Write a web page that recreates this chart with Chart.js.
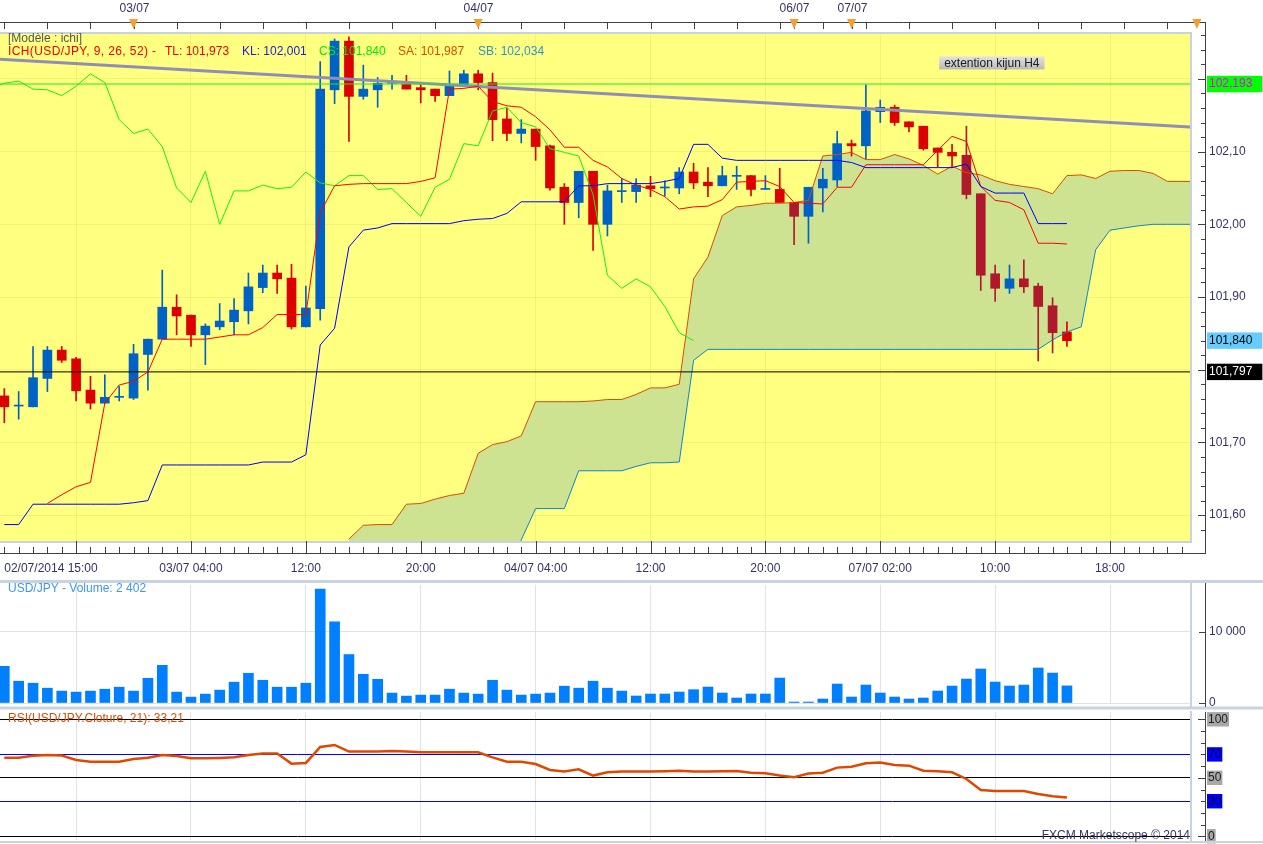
<!DOCTYPE html>
<html>
<head>
<meta charset="utf-8">
<title>USD/JPY ichimoku H1</title>
<script src="https://cdn.jsdelivr.net/npm/chart.js@4.4.0/dist/chart.umd.min.js"></script>
<style>
  html, body { margin: 0; padding: 0; background: #fff; overflow: hidden; }
  #wrap { position: relative; width: 1263px; height: 844px; }
  canvas { position: absolute; left: 0; }
</style>
</head>
<body>
<div id="wrap">
  <canvas id="price" width="1263" height="580" style="top:0"></canvas>
  <canvas id="vol" width="1263" height="130" style="top:580px"></canvas>
  <canvas id="rsi" width="1263" height="134" style="top:710px"></canvas>
</div>
<script>
// one candle per hour, index 0 = 02/07/2014 15:00 (weekend skipped after index 54)
var open = [101.764, 101.750, 101.749, 101.788, 101.827, 101.815, 101.772, 101.754, 101.762, 101.761,
  101.821, 101.842, 101.886, 101.875, 101.848, 101.859, 101.866, 101.881, 101.913, 101.933,
  101.926, 101.859, 101.884, 102.185, 102.252, 102.176, 102.185, 102.194, 102.193, 102.188,
  102.186, 102.177, 102.192, 102.207, 102.195, 102.145, 102.125, 102.131, 102.108, 102.051,
  102.030, 102.073, 102.000, 102.045, 102.045, 102.053, 102.050, 102.050, 102.072, 102.058,
  102.053, 102.066, 102.067, 102.048, 102.048, 102.030, 102.011, 102.050, 102.061, 102.111,
  102.108, 102.155, 102.161, 102.141, 102.135, 102.105, 102.099, 102.095, 102.042, 101.932,
  101.912, 101.925, 101.915, 101.888, 101.852];
var high = [101.774, 101.770, 101.832, 101.832, 101.832, 101.817, 101.791, 101.793, 101.777, 101.835,
  101.842, 101.937, 101.903, 101.875, 101.863, 101.891, 101.898, 101.933, 101.944, 101.944,
  101.945, 101.915, 102.224, 102.255, 102.258, 102.219, 102.202, 102.205, 102.205, 102.194,
  102.186, 102.211, 102.212, 102.212, 102.208, 102.160, 102.144, 102.131, 102.109, 102.056,
  102.073, 102.073, 102.054, 102.063, 102.063, 102.066, 102.060, 102.078, 102.084, 102.078,
  102.080, 102.080, 102.067, 102.067, 102.077, 102.030, 102.051, 102.077, 102.128, 102.116,
  102.192, 102.171, 102.164, 102.141, 102.135, 102.105, 102.110, 102.135, 102.042, 101.944,
  101.944, 101.951, 101.919, 101.899, 101.866];
var low = [101.727, 101.732, 101.749, 101.770, 101.810, 101.757, 101.746, 101.754, 101.757, 101.759,
  101.772, 101.842, 101.848, 101.832, 101.807, 101.855, 101.848, 101.863, 101.906, 101.905,
  101.856, 101.859, 101.868, 102.166, 102.114, 102.172, 102.161, 102.186, 102.186, 102.167,
  102.169, 102.177, 102.192, 102.185, 102.115, 102.115, 102.112, 102.088, 102.047, 102.000,
  102.009, 101.964, 101.984, 102.030, 102.030, 102.038, 102.039, 102.042, 102.049, 102.038,
  102.053, 102.048, 102.039, 102.048, 102.030, 101.972, 101.974, 102.017, 102.052, 102.094,
  102.090, 102.140, 102.136, 102.127, 102.102, 102.079, 102.078, 102.035, 101.909, 101.894,
  101.905, 101.906, 101.812, 101.823, 101.832];
var close = [101.749, 101.751, 101.789, 101.827, 101.813, 101.771, 101.754, 101.762, 101.763, 101.822,
  101.842, 101.886, 101.874, 101.848, 101.860, 101.867, 101.882, 101.914, 101.933, 101.925,
  101.859, 101.885, 102.186, 102.252, 102.176, 102.186, 102.194, 102.197, 102.186, 102.185,
  102.177, 102.190, 102.207, 102.195, 102.144, 102.125, 102.131, 102.107, 102.050, 102.030,
  102.073, 102.000, 102.046, 102.046, 102.054, 102.049, 102.051, 102.072, 102.057, 102.053,
  102.067, 102.067, 102.048, 102.049, 102.030, 102.011, 102.051, 102.062, 102.111, 102.108,
  102.156, 102.161, 102.140, 102.134, 102.104, 102.099, 102.094, 102.041, 101.930, 101.912,
  101.925, 101.914, 101.887, 101.851, 101.840];

var volume = [5140, 3060, 2780, 2080, 1670, 1530, 1670, 1940, 2220, 1670,
  3470, 5280, 1530, 830, 1250, 1810, 2920, 4170, 3190, 2220,
  2220, 2780, 15970, 11390, 6800, 4030, 3330, 1390, 970, 1110,
  1110, 1940, 1390, 1250, 3190, 1810, 1110, 1250, 1390, 2360,
  2080, 3060, 2080, 1670, 980, 1260, 1260, 1540, 1870, 2240,
  1400, 700, 1260, 1260, 3500, 140, 140, 560, 2660, 840,
  2520, 1400, 840, 560, 700, 1680, 2380, 3360, 4770, 2940,
  2380, 2520, 4910, 4200, 2402];

var rsi = [67.2, 67.2, 68.9, 69.5, 69.0, 65.2, 63.8, 63.8, 63.8, 66.1,
  67.2, 69.5, 68.7, 66.7, 66.7, 67.0, 67.5, 69.5, 70.7, 70.7,
  62.1, 62.7, 76.4, 78.1, 72.4, 72.4, 72.4, 72.9, 72.4, 71.8,
  71.8, 71.8, 71.8, 71.8, 67.5, 63.8, 63.8, 61.8, 56.7, 55.3,
  57.3, 51.9, 54.7, 55.3, 55.3, 55.3, 55.6, 56.1, 55.3, 55.3,
  55.6, 55.8, 54.4, 53.8, 51.9, 50.4, 53.6, 54.4, 58.7, 59.5,
  62.4, 63.0, 61.0, 60.4, 56.1, 55.6, 54.7, 49.0, 39.6, 38.7,
  38.7, 38.7, 36.2, 34.2, 33.2];

// ichimoku lines, each with the candle index of its first value
var tenkanStart = 3;
var tenkan = [101.616, 101.628, 101.639, 101.645, 101.754, 101.779, 101.784, 101.797, 101.842, 101.842,
  101.842, 101.842, 101.845, 101.848, 101.848, 101.858, 101.876, 101.876, 101.876, 102.016,
  102.053, 102.055, 102.056, 102.056, 102.056, 102.056, 102.059, 102.064, 102.186, 102.187,
  102.190, 102.169, 102.163, 102.161, 102.148, 102.130, 102.106, 102.106, 102.088, 102.079,
  102.063, 102.054, 102.048, 102.038, 102.021, 102.024, 102.025, 102.034, 102.058, 102.059,
  102.060, 102.052, 102.030, 102.029, 102.028, 102.051, 102.051, 102.082, 102.082, 102.082,
  102.082, 102.082, 102.102, 102.121, 102.114, 102.052, 102.033, 102.030, 102.020, 101.974,
  101.974, 101.973];
var kijunStart = 0;
var kijun = [101.587, 101.587, 101.615, 101.615, 101.615, 101.615, 101.615, 101.615, 101.615, 101.617,
  101.620, 101.669, 101.669, 101.669, 101.669, 101.669, 101.669, 101.669, 101.673, 101.673,
  101.673, 101.683, 101.834, 101.857, 101.969, 101.992, 101.995, 102.001, 102.001, 102.001,
  102.001, 102.001, 102.005, 102.007, 102.008, 102.015, 102.031, 102.031, 102.031, 102.031,
  102.053, 102.053, 102.056, 102.056, 102.056, 102.056, 102.059, 102.063, 102.110, 102.110,
  102.091, 102.088, 102.088, 102.088, 102.088, 102.088, 102.088, 102.088, 102.088, 102.085,
  102.078, 102.078, 102.078, 102.078, 102.078, 102.078, 102.078, 102.083, 102.052, 102.043,
  102.043, 102.043, 102.001, 102.001, 102.001];
var chikouStart = -1;
var chikou = [102.186, 102.194, 102.197, 102.186, 102.185, 102.177, 102.190, 102.207, 102.195, 102.144,
  102.125, 102.131, 102.107, 102.050, 102.030, 102.073, 102.000, 102.046, 102.046, 102.054,
  102.049, 102.051, 102.072, 102.057, 102.053, 102.067, 102.067, 102.048, 102.049, 102.030,
  102.011, 102.051, 102.062, 102.111, 102.108, 102.156, 102.161, 102.140, 102.134, 102.104,
  102.099, 102.094, 102.041, 101.930, 101.912, 101.925, 101.914, 101.887, 101.851, 101.840];
var senkouStart = 24;
var senkouA = [101.567, 101.586, 101.587, 101.587, 101.615, 101.616, 101.622, 101.627, 101.630, 101.685,
  101.697, 101.701, 101.709, 101.756, 101.756, 101.756, 101.756, 101.757, 101.759, 101.759,
  101.766, 101.775, 101.775, 101.780, 101.925, 101.955, 102.012, 102.024, 102.026, 102.029,
  102.029, 102.030, 102.033, 102.094, 102.096, 102.099, 102.089, 102.089, 102.096, 102.090,
  102.081, 102.069, 102.080, 102.071, 102.068, 102.060, 102.055, 102.052, 102.049, 102.042,
  102.067, 102.068, 102.063, 102.073, 102.074, 102.074, 102.070, 102.059, 102.059, 102.059];
var senkouB = [101.500, 101.500, 101.500, 101.500, 101.500, 101.500, 101.500, 101.500, 101.500, 101.500,
  101.500, 101.500, 101.566, 101.609, 101.609, 101.609, 101.661, 101.661, 101.661, 101.661,
  101.667, 101.672, 101.672, 101.673, 101.813, 101.828, 101.828, 101.828, 101.828, 101.828,
  101.828, 101.828, 101.828, 101.828, 101.828, 101.828, 101.828, 101.828, 101.828, 101.828,
  101.828, 101.828, 101.828, 101.828, 101.828, 101.828, 101.828, 101.828, 101.828, 101.841,
  101.852, 101.859, 101.965, 101.992, 101.995, 101.998, 102.000, 102.000, 102.000, 102.000];

// drawn objects on the price panel
var trendLine = [102.227, 102.134];      // value at left edge, value at right edge
var levels = [102.193, 101.797];         // horizontal lines
var priceMarks = [102.193, 101.840, 101.797];
var priceTicks = [101.6, 101.7, 101.8, 101.9, 102.0, 102.1, 102.2];
var hiddenPriceLabels = [101.8, 102.2];  // covered by the marker boxes
var volTicks = [0, 10000];
var volTickText = ['0', '10 000'];
var rsiTicks = [0, 30, 50, 70, 100];

// time axis
var gridHours = [5, 13, 21, 29, 37, 45, 53, 61, 69, 77];
var timeTickPos = [3.25, 13, 21, 29, 37, 45, 53, 61, 69, 77];
var timeTickText = ['02/07/2014 15:00', '03/07 04:00', '12:00', '20:00', '04/07 04:00', '12:00', '20:00', '07/07 02:00', '10:00', '18:00'];
var dayPos = [9, 33, 55, 59];
var dayText = ['03/07', '04/07', '06/07', '07/07'];

var darkCandles = [55, 67, 68, 69, 71, 72, 73];

var X_MIN = -0.3, X_MAX = 82.57;
var AXIS_X = 1205;
var FONT = '12px "Liberation Sans", Arial, sans-serif';
var NAVY = '#333366';
var FRAME = '#C9D3DF';

Chart.defaults.font.family = '"Liberation Sans", Arial, sans-serif';
Chart.defaults.font.size = 12;
Chart.defaults.animation = false;

function pts(arr, start) {
  return arr.map(function (v, k) { return { x: start + k, y: v }; });
}
function fmt(v, d) { return v.toFixed(d).replace('.', ','); }

// the panels are laid out by pixel, so drop the label overflow padding
function noPad(s) { s.paddingLeft = 0; s.paddingRight = 0; s.paddingTop = 0; s.paddingBottom = 0; }

function candleColor(c) {
  var i = c.dataIndex;
  if (close[i] >= open[i]) return '#0062C4';
  return darkCandles.indexOf(i) >= 0 ? '#B0192B' : '#DC0000';
}

function xAxis(showLabels, gridColor, height) {
  return {
    type: 'linear', min: X_MIN, max: X_MAX, offset: false,
    afterBuildTicks: function (s) {
      var vals = showLabels ? [3.25].concat(gridHours) : gridHours;
      s.ticks = vals.map(function (v) { return { value: v }; });
    },
    afterFit: function (s) { s.height = height; noPad(s); },
    ticks: {
      display: showLabels, autoSkip: false, maxRotation: 0, padding: 20, color: NAVY,
      callback: function (v) {
        var k = timeTickPos.indexOf(v);
        return k >= 0 ? timeTickText[k] : '';
      }
    },
    grid: {
      offset: false, drawTicks: false,
      color: function (c) { return gridHours.indexOf(c.tick.value) >= 0 ? gridColor : 'rgba(0,0,0,0)'; }
    },
    border: { display: false }
  };
}

function line(data, color, width, order) {
  return { type: 'line', data: data, borderColor: color, borderWidth: width, pointRadius: 0,
           tension: 0, fill: false, order: order };
}

function hline(ctx, x1, x2, y) { ctx.beginPath(); ctx.moveTo(x1, y); ctx.lineTo(x2, y); ctx.stroke(); }
function vline(ctx, x, y1, y2) { ctx.beginPath(); ctx.moveTo(x, y1); ctx.lineTo(x, y2); ctx.stroke(); }

var priceDeco = {
  id: 'priceDeco',
  beforeDraw: function (chart) {
    var a = chart.chartArea, ctx = chart.ctx;
    ctx.save();
    ctx.fillStyle = '#FFFF80';
    ctx.fillRect(a.left, a.top, a.right - a.left, a.bottom - a.top);
    ctx.restore();
  },
  afterDraw: function (chart) {
    var ctx = chart.ctx, a = chart.chartArea, x = chart.scales.x, y = chart.scales.y;
    ctx.save();
    ctx.strokeStyle = FRAME; ctx.lineWidth = 2;
    hline(ctx, 0, a.right + 2, a.bottom + 1);
    vline(ctx, a.right + 1, a.top, a.bottom + 2);
    hline(ctx, 0, a.right + 2, a.top - 1);

    ctx.strokeStyle = '#404040'; ctx.lineWidth = 1;
    // top date strip
    hline(ctx, 0, AXIS_X, 22.5);
    for (var i = 0; i <= 83; i += 3) {
      var px = Math.round(x.getPixelForValue(i)) + 0.5;
      vline(ctx, px, 22, 29);
    }
    ctx.font = FONT; ctx.fillStyle = NAVY; ctx.textAlign = 'center'; ctx.textBaseline = 'middle';
    dayPos.forEach(function (p, k) {
      var px = Math.round(x.getPixelForValue(p)) + 0.5;
      vline(ctx, px, 22, 29);
      ctx.fillText(dayText[k], px, 9);
    });
    ctx.fillStyle = '#F2A031';
    dayPos.concat([83.05]).forEach(function (p) {
      var px = x.getPixelForValue(p);
      ctx.beginPath(); ctx.moveTo(px - 4.5, 19); ctx.lineTo(px + 4.5, 19); ctx.lineTo(px, 29); ctx.closePath(); ctx.fill();
    });

    // bottom time axis
    hline(ctx, 0, AXIS_X, 553.5);
    for (var j = 0; j <= 82; j++) {
      vline(ctx, Math.round(x.getPixelForValue(j)) + 0.5, 547, 553);
    }
    gridHours.forEach(function (h) { vline(ctx, Math.round(x.getPixelForValue(h)) + 0.5, 541, 553); });

    // price axis line and ticks
    vline(ctx, AXIS_X + 0.5, 22, 554);
    for (var v = 101.58; v < 102.27; v += 0.02) {
      var py = Math.round(y.getPixelForValue(v)) + 0.5;
      var major = Math.abs(v * 10 - Math.round(v * 10)) < 0.01;
      hline(ctx, AXIS_X - (major ? 7 : 4), AXIS_X, py);
    }

    // legend
    ctx.textAlign = 'left';
    ctx.fillStyle = '#555566';
    ctx.fillText('[Modèle : ichi]', 8, 39);
    var parts = [['ICH(USD/JPY, 9, 26, 52) -', '#F00000', 8],
                 ['TL: 101,973', '#F00000', 165],
                 ['KL: 102,001', '#2020D0', 242],
                 ['CS: 101,840', '#00EE00', 319],
                 ['SA: 101,987', '#E04A00', 398],
                 ['SB: 102,034', '#2E94C8', 478]];
    parts.forEach(function (p, k) {
      ctx.letterSpacing = k === 0 ? '0.4px' : '0px';
      ctx.fillStyle = p[1]; ctx.fillText(p[0], p[2], 52);
    });
    ctx.letterSpacing = '0px';

    // note box
    var nx = x.getPixelForValue(65.1), ny = y.getPixelForValue(102.222);
    var txt = 'extention kijun H4', tw = ctx.measureText(txt).width;
    var g = ctx.createLinearGradient(0, ny - 7, 0, ny + 7);
    g.addColorStop(0, '#E4E4E4'); g.addColorStop(1, '#B8B8B8');
    ctx.fillStyle = g; ctx.fillRect(nx, ny - 6.5, tw + 10, 13);
    ctx.fillStyle = '#202020'; ctx.fillText(txt, nx + 5, ny + 0.5);
    ctx.restore();
  }
};

var volDeco = {
  id: 'volDeco',
  afterDraw: function (chart) {
    var ctx = chart.ctx, a = chart.chartArea, y = chart.scales.y;
    ctx.save();
    ctx.strokeStyle = FRAME; ctx.lineWidth = 3;
    hline(ctx, 0, 1263, 1.5);
    hline(ctx, 0, 1263, 128);
    ctx.lineWidth = 2;
    vline(ctx, a.right + 1, 3, 127);
    ctx.strokeStyle = '#404040'; ctx.lineWidth = 1;
    vline(ctx, AXIS_X + 0.5, 3, 127);
    volTicks.forEach(function (v) { hline(ctx, AXIS_X - 6, AXIS_X, Math.round(y.getPixelForValue(v)) + 0.5); });
    ctx.font = FONT; ctx.textBaseline = 'middle'; ctx.textAlign = 'left';
    ctx.fillStyle = '#3B97F5';
    ctx.fillText('USD/JPY - Volume: 2 402', 8, 9);
    ctx.restore();
  }
};

var rsiDeco = {
  id: 'rsiDeco',
  afterDraw: function (chart) {
    var ctx = chart.ctx, a = chart.chartArea, y = chart.scales.y;
    ctx.save();
    ctx.strokeStyle = FRAME; ctx.lineWidth = 2;
    hline(ctx, 0, 1263, 132);
    vline(ctx, a.right + 1, 1, 132);
    ctx.strokeStyle = '#404040'; ctx.lineWidth = 1;
    vline(ctx, AXIS_X + 0.5, 2, 131);
    for (var v = 0; v <= 100; v += 10) {
      var len = (v % 50 === 0) ? 7 : 4;
      hline(ctx, AXIS_X - len, AXIS_X, Math.round(y.getPixelForValue(v)) + 0.5);
    }
    ctx.font = FONT; ctx.textBaseline = 'middle';
    ctx.textAlign = 'left'; ctx.fillStyle = '#E04A00';
    ctx.fillText('RSI(USD/JPY.Cloture, 21): 33,21', 8, 9);
    ctx.textAlign = 'right'; ctx.fillStyle = NAVY;
    ctx.fillText('FXCM Marketscope \u00A9 2014', a.right, 126);
    ctx.restore();
  }
};

// price panel
new Chart(document.getElementById('price'), {
  type: 'bar',
  data: {
    datasets: [
      { type: 'line', data: pts(senkouA, senkouStart), borderColor: '#E04A00', borderWidth: 1, pointRadius: 0,
        tension: 0, fill: false, order: 20 },
      { type: 'line', data: pts(senkouB, senkouStart), borderColor: '#0A88CC', borderWidth: 1, pointRadius: 0,
        tension: 0, fill: '-1', backgroundColor: '#CDE392', order: 20 },
      { type: 'bar', data: open.map(function (o, i) { return { x: i, y: [low[i], high[i]] }; }),
        backgroundColor: candleColor, barThickness: 1, grouped: false, order: 40 },
      { type: 'bar', data: open.map(function (o, i) { return { x: i, y: [o, close[i]] }; }),
        backgroundColor: candleColor, barThickness: 9, minBarLength: 1, grouped: false, order: 30 },
      line([{ x: X_MIN, y: trendLine[0] }, { x: X_MAX, y: trendLine[1] }], '#8E8EB8', 3, 15),
      line([{ x: X_MIN, y: levels[0] }, { x: X_MAX, y: levels[0] }], '#22E622', 1, 14),
      line([{ x: X_MIN, y: levels[1] }, { x: X_MAX, y: levels[1] }], '#000000', 1, 14),
      line(pts(chikou, chikouStart), '#12F012', 1, 12),
      line(pts(tenkan, tenkanStart), '#FF0000', 1, 11),
      line(pts(kijun, kijunStart), '#0000FF', 1, 10)
    ]
  },
  options: {
    responsive: false, events: [],
    layout: { autoPadding: false, padding: { top: 34, left: 0, right: 0, bottom: 0 } },
    plugins: { legend: { display: false }, tooltip: { enabled: false }, filler: { drawTime: 'beforeDatasetsDraw' } },
    scales: {
      x: xAxis(true, 'rgba(214,214,90,0.35)', 39),
      y: {
        position: 'right', min: 101.5644, max: 102.2618,
        afterBuildTicks: function (s) {
          s.ticks = priceTicks.concat(priceMarks).map(function (v) { return { value: v }; });
        },
        afterFit: function (s) { s.width = 73; noPad(s); },
        ticks: {
          autoSkip: false, padding: 19, color: function (c) {
            var k = priceMarks.indexOf(c.tick.value);
            return k < 0 ? NAVY : ['#EE00EE', '#000000', '#FFFFFF'][k];
          },
          showLabelBackdrop: function (c) { return priceMarks.indexOf(c.tick.value) >= 0; },
          backdropColor: function (c) {
            var k = priceMarks.indexOf(c.tick.value);
            return k < 0 ? 'rgba(0,0,0,0)' : ['#00FF00', '#66CCFF', '#000000'][k];
          },
          backdropPadding: { left: 2, right: 10, top: 1, bottom: 1 },
          callback: function (v) {
            if (priceMarks.indexOf(v) >= 0) return fmt(v, 3);
            return hiddenPriceLabels.indexOf(v) >= 0 ? '' : fmt(v, 2);
          }
        },
        grid: {
          drawTicks: false,
          color: function (c) { return priceTicks.indexOf(c.tick.value) >= 0 ? 'rgba(214,214,90,0.35)' : 'rgba(0,0,0,0)'; }
        },
        border: { display: false }
      }
    }
  },
  plugins: [priceDeco]
});

// volume panel
new Chart(document.getElementById('vol'), {
  type: 'bar',
  data: {
    datasets: [{ data: volume.map(function (v, i) { return { x: i, y: v }; }),
                 backgroundColor: '#0080FF', barThickness: 10, grouped: false }]
  },
  options: {
    responsive: false, events: [],
    layout: { autoPadding: false, padding: { top: 5, left: 0, right: 0, bottom: 0 } },
    plugins: { legend: { display: false }, tooltip: { enabled: false } },
    scales: {
      x: xAxis(false, '#E2E2E2', 7),
      y: {
        position: 'right', min: 0, max: 16550,
        afterBuildTicks: function (s) { s.ticks = volTicks.map(function (v) { return { value: v }; }); },
        afterFit: function (s) { s.width = 73; noPad(s); },
        ticks: { autoSkip: false, padding: 19, color: NAVY,
                 callback: function (v) { return volTickText[volTicks.indexOf(v)]; } },
        grid: { drawTicks: false, color: '#E2E2E2' },
        border: { display: false }
      }
    }
  },
  plugins: [volDeco]
});

// RSI panel
new Chart(document.getElementById('rsi'), {
  type: 'line',
  data: {
    datasets: [line(rsi.map(function (v, i) { return { x: i, y: v }; }), '#E04800', 2.5, 1)]
  },
  options: {
    responsive: false, events: [],
    layout: { autoPadding: false, padding: { top: 2, left: 0, right: 0, bottom: 0 } },
    plugins: { legend: { display: false }, tooltip: { enabled: false } },
    scales: {
      x: xAxis(false, '#E2E2E2', 4),
      y: {
        position: 'right', min: -3.16, max: 106.24,
        afterBuildTicks: function (s) { s.ticks = rsiTicks.map(function (v) { return { value: v }; }); },
        afterFit: function (s) { s.width = 73; noPad(s); },
        ticks: {
          autoSkip: false, padding: 18,
          color: function (c) { return (c.tick.value === 30 || c.tick.value === 70) ? '#00002A' : '#202020'; },
          showLabelBackdrop: true,
          backdropColor: function (c) {
            var v = c.tick.value;
            return (v === 30 || v === 70) ? '#0000FF' : '#A8A8A8';
          },
          backdropPadding: { left: 1, right: 1, top: 0, bottom: 0 },
          callback: function (v) { return String(v); }
        },
        grid: {
          drawTicks: false,
          color: function (c) { return (c.tick.value === 30 || c.tick.value === 70) ? '#0000FF' : '#000000'; }
        },
        border: { display: false }
      }
    }
  },
  plugins: [rsiDeco]
});
</script>
</body>
</html>
